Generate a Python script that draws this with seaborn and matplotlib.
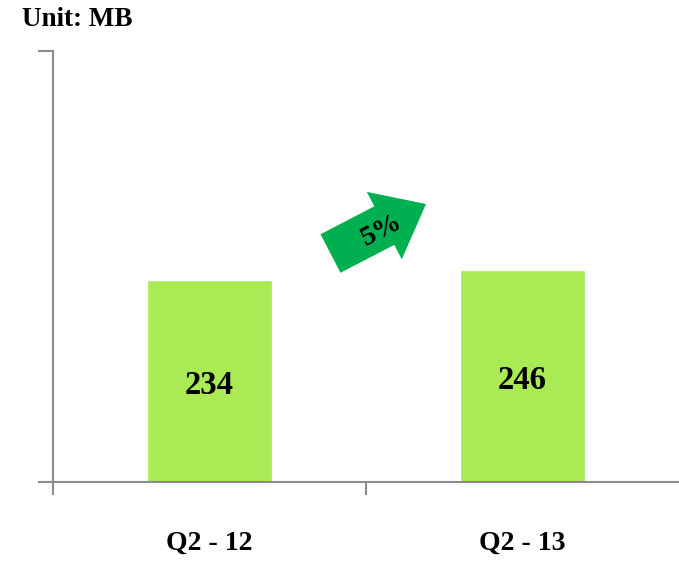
import matplotlib
matplotlib.use("Agg")
import matplotlib.pyplot as plt
import matplotlib.patches as mpatches
import matplotlib.transforms as mtransforms
import seaborn as sns

# data
quarters = ["Q2 - 12", "Q2 - 13"]
volumes = [234, 246]
growth_label = "5%"
unit_label = "Unit: MB"

bar_color = "#A9EA55"
arrow_color = "#00B050"
axis_color = "#8C8C8C"

sns.set_style("white")
plt.rcParams["font.family"] = ["Liberation Serif", "DejaVu Serif"]
plt.rcParams["font.weight"] = "bold"
plt.rcParams["text.color"] = "black"
plt.rcParams["xtick.labelcolor"] = "black"

W, H = 679, 561
fig = plt.figure(figsize=(W / 100, H / 100), dpi=100)
# axes box in pixels: left 53, right 679, top 51, bottom 482
ax = fig.add_axes([53 / W, (H - 482) / H, (679 - 53) / W, (482 - 51) / H])

sns.barplot(x=quarters, y=volumes, color=bar_color, saturation=1, width=0.4, ax=ax)
ax.set_xlim(-0.5, 1.5)
ax.set_ylim(0, 500)
ax.set_xlabel("")
ax.set_ylabel("")

# value labels in the middle of each bar
for i, v in enumerate(volumes):
    ax.text(i, v / 2 - 5, str(v), ha="center", va="center",
            fontsize=23.5, fontweight="bold", color="black")

# spines and ticks
sns.despine(ax=ax)
for side in ["left", "bottom"]:
    ax.spines[side].set_color(axis_color)
    ax.spines[side].set_linewidth(1.5)
ax.set_yticks([0, 500])
ax.set_yticklabels([])
ax.tick_params(axis="y", which="major", direction="out", length=10.5,
               width=1.5, color=axis_color, left=True)
ax.set_xticks([-0.5, 0.5], minor=True)
ax.tick_params(axis="x", which="minor", direction="out", length=9.5,
               width=1.5, color=axis_color, bottom=True)
ax.tick_params(axis="x", which="major", length=0, pad=35, labelsize=20,
               labelcolor="black")
for lab in ax.get_xticklabels():
    lab.set_fontweight("bold")

# unit label
fig.text(22 / W, 1 - 19 / H, unit_label, ha="left", va="center",
         fontsize=19.5, fontweight="bold", color="black")

# growth arrow drawn in pixel space
angle = 27.4
shaft_len, shaft_half, head_half, tip_len = 60.6, 21.7, 38.0, 107.6
shape = [(0, -shaft_half), (shaft_len, -shaft_half), (shaft_len, -head_half),
         (tip_len, 0), (shaft_len, head_half), (shaft_len, shaft_half),
         (0, shaft_half)]
px = (mtransforms.Affine2D().rotate_deg(angle).translate(330.5, H - 253.5)
      .scale(1 / fig.dpi) + fig.dpi_scale_trans)
arrow = mpatches.Polygon(shape, closed=True, facecolor=arrow_color,
                         edgecolor="none", transform=px)
fig.add_artist(arrow)
fig.text(382 / W, 1 - 230 / H, growth_label, ha="center", va="center",
         rotation=angle, rotation_mode="anchor", fontsize=20.5,
         fontweight="bold", color="black")

fig.savefig("out.png", dpi=100)
